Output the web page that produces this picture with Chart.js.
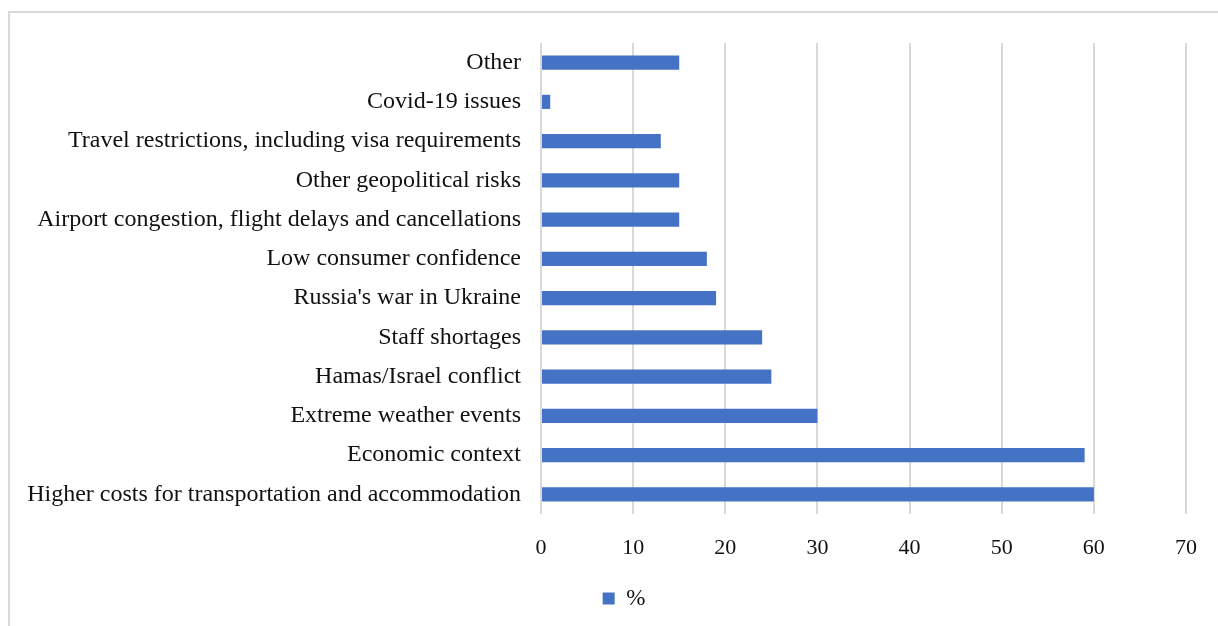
<!DOCTYPE html>
<html>
<head>
<meta charset="utf-8">
<script src="https://cdn.jsdelivr.net/npm/chart.js@4.4.1/dist/chart.umd.min.js"></script>
<style>
  html, body { margin: 0; padding: 0; background: #fff; }
  #wrap { position: relative; width: 1218px; height: 626px; }
  #frame {
    position: absolute; left: 8px; top: 11px; right: 0; bottom: 0;
    border-top: 2px solid #d9d9d9; border-left: 2px solid #d9d9d9;
    pointer-events: none;
  }
</style>
</head>
<body>
<div id="wrap">
  <canvas id="BarChart" width="1218" height="626"></canvas>
  <div id="frame"></div>
</div>
<script>
const categories = [
  "Other",
  "Covid-19 issues",
  "Travel restrictions, including visa requirements",
  "Other geopolitical risks",
  "Airport congestion, flight delays and cancellations",
  "Low consumer confidence",
  "Russia's war in Ukraine",
  "Staff shortages",
  "Hamas/Israel conflict",
  "Extreme weather events",
  "Economic context",
  "Higher costs for transportation and accommodation",
];
const percentValues = [15, 1, 13, 15, 15, 18, 19, 24, 25, 30, 59, 60];
const xTicks = [0, 10, 20, 30, 40, 50, 60, 70];
const seriesName = "%";

const fontFamily = "'Liberation Serif', 'Times New Roman', serif";
const barColor = "#4472C4";
const gridColor = "#d9d9d9";
const textColor = "#111";
const padLeft = 12;

// the legend in the original sits a little right of the canvas centre
const legendShift = {
  id: "legendShift",
  afterLayout(chart) {
    if (!chart.legend) return;
    chart.legend.left += 24;
    chart.legend.right += 24;
  },
};

const chartConfig = {
  type: "bar",
  data: {
    labels: categories,
    datasets: [
      {
        label: seriesName,
        data: percentValues,
        backgroundColor: barColor,
        borderWidth: 0,
        barPercentage: 0.36,
        categoryPercentage: 1,
      },
    ],
  },
  options: {
    indexAxis: "y",
    responsive: false,
    animation: false,
    layout: {
      padding: { top: 43, left: padLeft, right: 30, bottom: 6 },
    },
    scales: {
      x: {
        min: xTicks[0],
        max: xTicks[xTicks.length - 1],
        afterBuildTicks: (scale) => {
          scale.ticks = xTicks.map((v) => ({ value: v }));
        },
        border: { display: false },
        grid: {
          color: gridColor,
          lineWidth: 2,
          drawTicks: false,
        },
        ticks: {
          padding: 21,
          color: textColor,
          font: { family: fontFamily, size: 22 },
        },
        afterFit: (scale) => {
          scale.height = 61;
        },
      },
      y: {
        border: { display: false },
        grid: { display: false },
        ticks: {
          padding: 12,
          color: textColor,
          font: { family: fontFamily, size: 24 },
        },
        afterFit: (scale) => {
          scale.width = 541 - padLeft;
        },
      },
    },
    plugins: {
      legend: {
        position: "bottom",
        labels: {
          boxWidth: 12,
          boxHeight: 12,
          padding: 12,
          color: textColor,
          font: { family: fontFamily, size: 23 },
        },
      },
      tooltip: { enabled: false },
    },
  },
  plugins: [legendShift],
};

const ctx = document.getElementById("BarChart");
new Chart(ctx, chartConfig);
</script>
</body>
</html>
